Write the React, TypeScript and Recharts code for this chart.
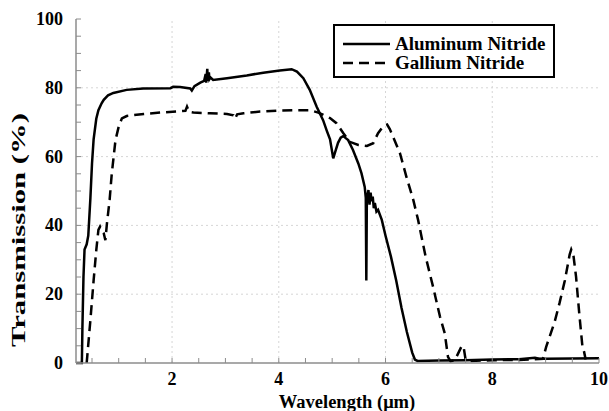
import React from 'react'
import { LineChart, Line, XAxis, YAxis, ReferenceLine, Legend, Label } from 'recharts'

// Aluminum Nitride (solid)
const alnWave = [
  0.2, 0.31, 0.32, 0.34, 0.36, 0.4, 0.43, 0.47, 0.5, 0.53, 0.58, 0.62, 0.68, 0.72, 0.75, 0.8, 0.9,
  1.15, 1.46, 1.97, 2.02, 2.15, 2.34, 2.37, 2.42, 2.53, 2.6, 2.63, 2.64, 2.66, 2.67, 2.69, 2.7, 2.72,
  2.77, 3.03, 3.4, 3.71, 4.02, 4.24, 4.3, 4.34, 4.46, 4.58, 4.71, 4.83, 4.9, 4.96, 5.02, 5.07, 5.11,
  5.16, 5.21, 5.26, 5.3, 5.39, 5.49, 5.55, 5.61, 5.63, 5.64, 5.65, 5.68, 5.7, 5.72, 5.74, 5.76, 5.78,
  5.8, 5.83, 5.86, 5.93, 6.0, 6.1, 6.2, 6.3, 6.4, 6.5, 6.55, 6.6, 7.0, 7.5, 8.0, 8.5, 8.8, 8.9, 9.0,
  9.5, 10,
]
const alnTrans = [
  0, 0, 10, 25, 33, 34.5, 37, 48, 58, 65, 71, 73.5, 75.5, 76.5, 77, 77.8, 78.5,
  79.4, 79.8, 79.9, 80.3, 80.2, 79.8, 79.2, 80.5, 81.5, 82, 84, 81.5, 85.5, 82, 84.5, 82.5, 83,
  82.3, 82.8, 83.6, 84.4, 85, 85.4, 85, 84.7, 82.8, 79.4, 74.5, 70.6, 67.5, 65, 59.5, 62, 64,
  65.5, 66, 65.3, 64.8, 61.9, 58, 55.1, 51.2, 48, 24, 47.5, 50.3, 46, 49.5, 47, 48.4, 45,
  46.5, 44, 44.5, 41.6, 37, 31, 24, 16, 9, 3, 1, 0.6, 0.7, 0.8, 1.0, 1.1, 1.5, 1.2, 1.2,
  1.3, 1.4,
]

// Gallium Nitride (dashed)
const ganWave = [
  0.4, 0.41, 0.47, 0.53, 0.58, 0.62, 0.65, 0.68, 0.72, 0.75, 0.78, 0.83, 0.87, 0.94, 1.0, 1.06, 1.15,
  1.47, 1.78, 2.09, 2.25, 2.28, 2.32, 2.4, 2.71, 3.03, 3.15, 3.18, 3.22, 3.34, 3.65, 4.02, 4.34, 4.58,
  4.74, 4.96, 5.08, 5.21, 5.33, 5.49, 5.65, 5.77, 5.86, 5.96, 6.03, 6.08, 6.14, 6.27, 6.39, 6.52,
  6.61, 6.75, 6.89, 7.02, 7.11, 7.17, 7.22, 7.3, 7.33, 7.42, 7.46, 7.5, 7.6, 8.0, 8.5, 8.95, 9.01,
  9.17, 9.26, 9.36, 9.45, 9.48, 9.52, 9.57, 9.63, 9.69, 9.72, 9.75,
]
const ganTrans = [
  0, 1.8, 12.5, 24, 32.8, 38.7, 39.6, 38.5, 37.7, 35.7, 40.6, 47.4, 55, 64.8, 68.7, 71.1, 71.8,
  72.4, 72.8, 73.1, 73.3, 74.5, 73, 72.8, 72.6, 72.4, 72, 71, 72.3, 72.6, 73.1, 73.4, 73.5, 73.5,
  72.8, 71.2, 69.7, 66.8, 64.3, 63.4, 63.1, 63.9, 66.8, 68.9, 69.3, 68, 65.8, 61, 54.2, 47.4,
  41.6, 31, 22.2, 13.5, 8.6, 1.8, 0.5, 0.8, 1.8, 4.7, 5, 1, 0.6, 0.8, 0.9, 1.2, 4.7,
  12, 17.4, 24, 31.5, 33, 31.4, 25.1, 14.4, 4.7, 3.3, 1,
]

const xTicks = [0.5, 1, 1.5, 2, 2.5, 3, 3.5, 4, 4.5, 5, 5.5, 6, 6.5, 7, 7.5, 8, 8.5, 9, 9.5, 10]
const xLabelTicks = [2, 4, 6, 8, 10]
const yTicks = [0, 5, 10, 15, 20, 25, 30, 35, 40, 45, 50, 55, 60, 65, 70, 75, 80, 85, 90, 95, 100]
const yLabelTicks = [0, 20, 40, 60, 80, 100]
const xGrid = [2, 4, 6, 8]
const yGrid = [20, 40, 60, 80]

const alnData = alnWave.map((w, i) => ({ wave: w, trans: alnTrans[i] }))
const ganData = ganWave.map((w, i) => ({ wave: w, trans: ganTrans[i] }))

const FONT = "'Liberation Serif', 'Times New Roman', serif"
const AXIS = '#8c8c8c'
const TICK_LEN = 5

const BottomTick = (props: any) => {
  const { x, y, payload } = props
  return (
    <g>
      <line x1={x} y1={y} x2={x} y2={y - TICK_LEN} stroke={AXIS} />
      {xLabelTicks.includes(payload.value) && (
        <text x={x} y={y + 22} textAnchor="middle" fontFamily={FONT} fontWeight="bold" fontSize={18} fill="#000">
          {payload.value}
        </text>
      )}
    </g>
  )
}

const TopTick = (props: any) => {
  const { x, y } = props
  return <line x1={x} y1={y} x2={x} y2={y + TICK_LEN} stroke={AXIS} />
}

const LeftTick = (props: any) => {
  const { x, y, payload } = props
  return (
    <g>
      <line x1={x} y1={y} x2={x + TICK_LEN} y2={y} stroke={AXIS} />
      {yLabelTicks.includes(payload.value) && (
        <text x={x - 13} y={y + 6} textAnchor="end" fontFamily={FONT} fontWeight="bold" fontSize={18} fill="#000">
          {payload.value}
        </text>
      )}
    </g>
  )
}

const RightTick = (props: any) => {
  const { x, y } = props
  return <line x1={x} y1={y} x2={x - TICK_LEN} y2={y} stroke={AXIS} />
}

const LegendBox = () => (
  <svg width={222} height={54} style={{ display: 'block' }}>
    <rect x={1} y={1} width={220} height={52} fill="#fff" stroke="#000" strokeWidth={2} />
    <line x1={10} y1={20} x2={57} y2={20} stroke="#000" strokeWidth={2.5} />
    <text x={62} y={26} fontFamily={FONT} fontWeight="bold" fontSize={19} fill="#000">
      Aluminum Nitride
    </text>
    <line x1={10} y1={39} x2={57} y2={39} stroke="#000" strokeWidth={2.5} strokeDasharray="10 6" />
    <text x={62} y={45} fontFamily={FONT} fontWeight="bold" fontSize={19} fill="#000">
      Gallium Nitride
    </text>
  </svg>
)

export default function App() {
  return (
    <div style={{ position: 'absolute', left: 0, top: 0, width: 609, height: 411, background: '#fff' }}>
      <LineChart width={609} height={411} margin={{ top: 19, right: 10, bottom: 0, left: 0 }}>
        <XAxis
          dataKey="wave"
          type="number"
          domain={[0.2, 10]}
          allowDataOverflow
          ticks={xTicks}
          interval={0}
          height={48}
          tickSize={0}
          tickMargin={0}
          tickLine={false}
          axisLine={{ stroke: AXIS, strokeWidth: 1.5 }}
          tick={<BottomTick />}
        >
          <Label
            content={() => (
              <text x={347} y={408} textAnchor="middle" fontFamily={FONT} fontWeight="bold" fontSize={18.5} fill="#000">
                Wavelength (μm)
              </text>
            )}
          />
        </XAxis>
        <XAxis
          xAxisId="top"
          orientation="top"
          type="number"
          domain={[0.2, 10]}
          allowDataOverflow
          ticks={xTicks}
          interval={0}
          height={0}
          tickSize={0}
          tickMargin={0}
          tickLine={false}
          axisLine={{ stroke: AXIS, strokeWidth: 1.5 }}
          tick={<TopTick />}
        />
        <YAxis
          type="number"
          domain={[0, 100]}
          ticks={yTicks}
          interval={0}
          width={76}
          tickSize={0}
          tickMargin={0}
          tickLine={false}
          axisLine={{ stroke: AXIS, strokeWidth: 1.5 }}
          tick={<LeftTick />}
        >
          <Label
            content={() => (
              <text
                x={21}
                y={230}
                transform="rotate(-90 21 230)"
                textAnchor="middle"
                dominantBaseline="middle"
                textLength={234}
                lengthAdjust="spacingAndGlyphs"
                fontFamily={FONT}
                fontWeight="bold"
                fontSize={19}
                fill="#000"
              >
                Transmission (%)
              </text>
            )}
          />
        </YAxis>
        <YAxis
          yAxisId="right"
          orientation="right"
          type="number"
          domain={[0, 100]}
          ticks={yTicks}
          interval={0}
          width={0}
          tickSize={0}
          tickMargin={0}
          tickLine={false}
          axisLine={{ stroke: AXIS, strokeWidth: 1.5 }}
          tick={<RightTick />}
        />
        {xGrid.map((v) => (
          <ReferenceLine key={`gx${v}`} x={v} stroke="#d6d6d6" strokeDasharray="2 3" />
        ))}
        {yGrid.map((v) => (
          <ReferenceLine key={`gy${v}`} y={v} stroke="#d6d6d6" strokeDasharray="2 3" />
        ))}
        <Line
          data={ganData}
          dataKey="trans"
          name="Gallium Nitride"
          type="linear"
          stroke="#000"
          strokeWidth={2.5}
          strokeDasharray="10 6"
          dot={false}
          activeDot={false}
          isAnimationActive={false}
        />
        <Line
          data={alnData}
          dataKey="trans"
          name="Aluminum Nitride"
          type="linear"
          stroke="#000"
          strokeWidth={2.5}
          dot={false}
          activeDot={false}
          isAnimationActive={false}
        />
        <Legend
          layout="vertical"
          align="center"
          verticalAlign="middle"
          wrapperStyle={{ left: 333, top: 24, width: 222, height: 54 }}
          content={() => <LegendBox />}
        />
      </LineChart>
    </div>
  )
}
